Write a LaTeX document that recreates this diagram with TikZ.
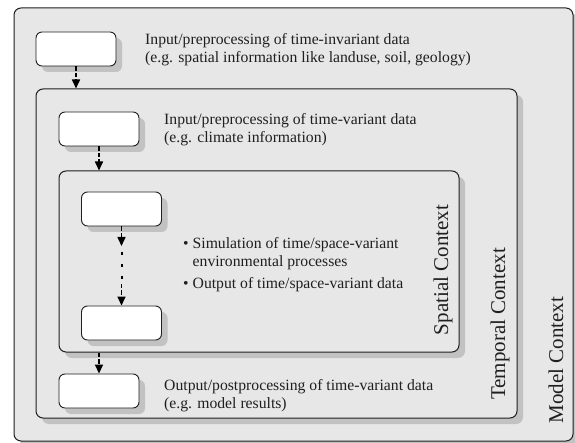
\documentclass[tikz,border=0pt]{standalone}
\usepackage{fontspec}
\setmainfont{Liberation Serif}
\usetikzlibrary{arrows.meta,shadows}
\definecolor{panel}{gray}{0.905}
\definecolor{shade}{gray}{0.76}
\definecolor{ink}{gray}{0.12}
\begin{document}
\begin{tikzpicture}[x=1pt,y=-1pt,
  ctx/.style={draw=ink, line width=1pt, fill=panel, rounded corners=7pt,
    inner sep=0pt, drop shadow={shadow xshift=6pt, shadow yshift=-6pt, fill=shade, opacity=1}},
  proc/.style={draw=ink, line width=0.9pt, fill=white, rounded corners=6pt,
    minimum width=80pt, minimum height=34pt, inner sep=0pt,
    drop shadow={shadow xshift=6pt, shadow yshift=-6pt, fill=shade, opacity=1}},
  desc/.style={anchor=west, align=left, text=ink, inner sep=0pt,
    font=\fontsize{15.7}{18}\selectfont},
  ctxlabel/.style={rotate=90, text=ink, inner sep=0pt, font=\fontsize{21}{24}\selectfont},
  flow/.style={draw=black, line width=1.6pt, dash pattern=on 4.5pt off 2pt,
    -{Triangle[length=9pt,width=8pt]}},
  dots/.style={draw=black, line width=2pt, dash pattern=on 3pt off 9pt}
]
\useasboundingbox (0,0) rectangle (575,443);
\fill[white] (0,0) rectangle (575,443);

% nested context frames
\node[ctx, drop shadow={opacity=0}, minimum width=559pt, minimum height=433pt] (model) at (293.5,224.5) {};
\node[ctx, minimum width=481pt, minimum height=329pt] (temporal) at (276.5,253.5) {};
\node[ctx, minimum width=400pt, minimum height=181pt] (spatial) at (259,261.5) {};

% frame labels
\node[ctxlabel] (lspatial) at (443,270) {Spatial Context};
\node[ctxlabel] (ltemporal) at (500,324) {Temporal Context};
\node[ctxlabel] (lmodel) at (556,360) {Model Context};

% processing steps
\node[proc] (b1) at (76,49) {};
\node[proc] (b2) at (99,129) {};
\node[proc] (b3) at (121.5,209) {};
\node[proc] (b4) at (121.5,323) {};
\node[proc] (b5) at (99,391) {};

% descriptions
\node[desc] (t1) at (145,50) {Input/preprocessing of time-invariant data\\(e.g. spatial information like landuse, soil, geology)};
\node[desc] (t2) at (164,130) {Input/preprocessing of time-variant data\\(e.g. climate information)};
\node[desc] (t3) at (183,265) {%
  \begin{tabular}{@{}l@{\hspace{4pt}}l@{}}
  \textbullet & Simulation of time/space-variant\\
              & environmental processes\\[4pt]
  \textbullet & Output of time/space-variant data
  \end{tabular}};
\node[desc] (t5) at (164,396) {Output/postprocessing of time-variant data\\(e.g. model results)};

% data flow
\coordinate (m1) at (121.5,246);
\coordinate (m2) at (121.5,252);
\coordinate (m3) at (121.5,284);
\draw[flow] (b1.south) -- (b1.south |- temporal.north);
\draw[flow] (b2.south) -- (b2.south |- spatial.north);
\draw[flow] (b3.south) -- (m1);
\draw[dots] (m2) -- (m3);
\draw[flow] (m3) -- (b4.north);
\draw[flow] (spatial.south -| b5.north) -- (b5.north);
\end{tikzpicture}
\end{document}
